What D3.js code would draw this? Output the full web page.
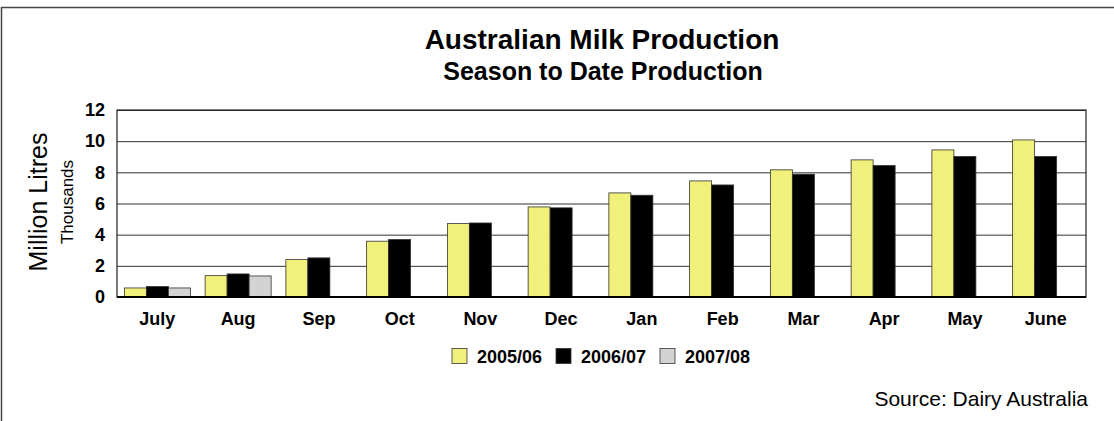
<!DOCTYPE html>
<html>
<head>
<meta charset="utf-8">
<script src="https://cdn.jsdelivr.net/npm/d3@7"></script>
<style>
  body { margin: 0; background: #fff; }
  svg text { font-family: "Liberation Sans", Arial, sans-serif; }
</style>
</head>
<body>
<div id="plot"></div>
<script>
var svgWidth = 1114;
var svgHeight = 421;

// data (thousand million litres, season to date)
var months = ["July", "Aug", "Sep", "Oct", "Nov", "Dec", "Jan", "Feb", "Mar", "Apr", "May", "June"];
var seasons = ["2005/06", "2006/07", "2007/08"];
var s0506 = [0.58, 1.37, 2.40, 3.58, 4.71, 5.78, 6.68, 7.45, 8.16, 8.80, 9.44, 10.08];
var s0607 = [0.67, 1.48, 2.51, 3.69, 4.75, 5.72, 6.53, 7.19, 7.88, 8.44, 9.02, 9.02];
var s0708 = [0.58, 1.35];
var yTicks = [0, 2, 4, 6, 8, 10, 12];
var colors = ["#f0f07a", "#000000", "#d3d3d3"];

var margin = { top: 110, right: 28, bottom: 124, left: 117 };
var width = svgWidth - margin.left - margin.right;
var height = svgHeight - margin.top - margin.bottom;

var svg = d3.select("#plot")
  .append("svg")
  .attr("width", svgWidth)
  .attr("height", svgHeight);

// outer frame (only top and left edges show in the window)
svg.append("rect")
  .attr("x", 1.5).attr("y", 7.5)
  .attr("width", svgWidth + 20).attr("height", svgHeight + 20)
  .attr("fill", "none")
  .attr("stroke", "#444")
  .attr("stroke-width", 1.5);

var chartGroup = svg.append("g")
  .attr("transform", `translate(${margin.left}, ${margin.top})`);

var xScale = d3.scaleBand().domain(months).range([0, width]);
// three bar slots of 22px centred in each month
var xInner = d3.scaleBand().domain(seasons).range([0, 66]);
var yScale = d3.scaleLinear().domain([0, 12]).range([height, 0]);

// gridlines
chartGroup.append("g")
  .attr("class", "grid")
  .call(d3.axisLeft(yScale).tickValues(yTicks).tickSize(-width).tickFormat(""))
  .call(g => g.select(".domain").remove())
  .selectAll("line")
  .attr("stroke", "#333")
  .attr("stroke-width", 1);

// bars
var series = [s0506, s0607, s0708];
series.forEach(function(vals, si) {
  chartGroup.append("g")
    .selectAll("rect")
    .data(vals)
    .enter()
    .append("rect")
    .attr("x", (d, i) => xScale(months[i]) + xScale.bandwidth() / 2 - 33 + xInner(seasons[si]))
    .attr("y", d => yScale(d))
    .attr("width", xInner.bandwidth())
    .attr("height", d => height - yScale(d))
    .attr("fill", colors[si])
    .attr("stroke", "#333")
    .attr("stroke-width", 0.8);
});

// plot frame
chartGroup.append("rect")
  .attr("x", 0).attr("y", 0)
  .attr("width", width).attr("height", height)
  .attr("fill", "none")
  .attr("stroke", "#222")
  .attr("stroke-width", 1.2);
chartGroup.append("line")
  .attr("x1", 0).attr("x2", width)
  .attr("y1", height).attr("y2", height)
  .attr("stroke", "#000")
  .attr("stroke-width", 2);

// y axis labels
var leftAxis = d3.axisLeft(yScale).tickValues(yTicks).tickSize(0).tickPadding(12);
chartGroup.append("g")
  .call(leftAxis)
  .call(g => g.select(".domain").remove())
  .selectAll("text")
  .attr("font-size", "18px")
  .attr("font-weight", "bold")
  .attr("fill", "#000")
  .style("font-family", "'Liberation Sans', Arial, sans-serif");

// x axis labels
var bottomAxis = d3.axisBottom(xScale).tickSize(0).tickPadding(15);
chartGroup.append("g")
  .attr("transform", `translate(0, ${height})`)
  .call(bottomAxis)
  .call(g => g.select(".domain").remove())
  .selectAll("text")
  .attr("font-size", "18px")
  .attr("font-weight", "bold")
  .attr("fill", "#000")
  .style("font-family", "'Liberation Sans', Arial, sans-serif");

// titles
svg.append("text")
  .attr("x", 602).attr("y", 49)
  .attr("text-anchor", "middle")
  .attr("font-size", "28px")
  .attr("font-weight", "bold")
  .text("Australian Milk Production");

svg.append("text")
  .attr("x", 603).attr("y", 80)
  .attr("text-anchor", "middle")
  .attr("font-size", "25px")
  .attr("font-weight", "bold")
  .text("Season to Date Production");

svg.append("text")
  .attr("transform", "translate(47, 202) rotate(-90)")
  .attr("text-anchor", "middle")
  .attr("font-size", "25px")
  .text("Million Litres");

svg.append("text")
  .attr("transform", "translate(73, 202) rotate(-90)")
  .attr("text-anchor", "middle")
  .attr("font-size", "17px")
  .text("Thousands");

// legend
var legendX = [452, 556, 660];
var legend = svg.append("g");
seasons.forEach(function(s, i) {
  legend.append("rect")
    .attr("x", legendX[i]).attr("y", 348.5)
    .attr("width", 15).attr("height", 15)
    .attr("fill", colors[i])
    .attr("stroke", "#333")
    .attr("stroke-width", 0.8);
  legend.append("text")
    .attr("x", legendX[i] + 25).attr("y", 363)
    .attr("font-size", "18px")
    .attr("font-weight", "bold")
    .text(s);
});

svg.append("text")
  .attr("x", 1088).attr("y", 406)
  .attr("text-anchor", "end")
  .attr("font-size", "21px")
  .text("Source: Dairy Australia");
</script>
</body>
</html>
